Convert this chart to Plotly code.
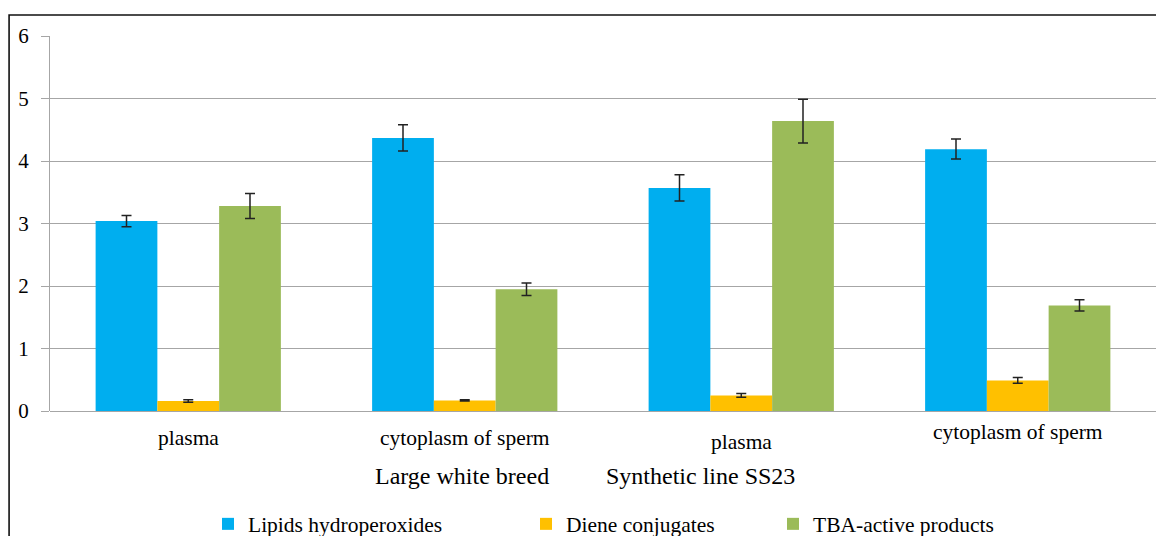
import plotly.graph_objects as go

categories = ["plasma", "cytoplasm of sperm", "plasma", "cytoplasm of sperm"]
groups = ["Large white breed", "Synthetic line SS23"]
series_names = ["Lipids hydroperoxides", "Diene conjugates", "TBA-active products"]
lipids = [3.04, 4.37, 3.57, 4.19]
lipids_err = [0.09, 0.21, 0.21, 0.16]
diene = [0.16, 0.17, 0.25, 0.49]
diene_err = [0.02, 0.01, 0.03, 0.045]
tba = [3.28, 1.95, 4.64, 1.69]
tba_err = [0.20, 0.10, 0.35, 0.09]
y_ticks = [0, 1, 2, 3, 4, 5, 6]

colors = ["#00AEEF", "#FFC000", "#9BBB59"]
FONT = "Liberation Serif"

x = list(range(len(categories)))
fig = go.Figure()
for i, (name, vals, errs) in enumerate(zip(series_names, [lipids, diene, tba], [lipids_err, diene_err, tba_err])):
    fig.add_trace(go.Bar(
        x=x, y=vals, name=name, marker=dict(color=colors[i], line=dict(width=0)),
        error_y=dict(type="data", array=errs, color="#222222", thickness=1.5, width=5),
        legend="legend" if i == 0 else f"legend{i+1}",
    ))

# category labels
label_y = [-0.073, -0.073, -0.083, -0.057]
for xi, (cat, ly) in enumerate(zip(categories, label_y)):
    fig.add_annotation(x=xi, y=ly, xref="x", yref="paper", text=cat, showarrow=False,
                       font=dict(family=FONT, size=21.5, color="#000"), yanchor="middle")
group_x = [0.292, 0.675]
for g, gx in zip(groups, group_x):
    fig.add_annotation(x=gx, y=-0.173, xref="paper", yref="paper", text=g, showarrow=False,
                       font=dict(family=FONT, size=24, color="#000"), yanchor="middle")

# frame
fig.add_shape(type="rect", xref="paper", yref="paper", x0=-0.037, x1=1.05, y0=-0.5, y1=1.056,
              line=dict(color="#111", width=1.6), layer="below")

leg_common = dict(orientation="h", yanchor="middle", y=-0.301, xanchor="left",
                  font=dict(family=FONT, size=21.5, color="#000"), bgcolor="rgba(0,0,0,0)")
fig.update_layout(
    width=1156, height=536,
    margin=dict(l=50, r=0, t=36, b=125, autoexpand=False),
    paper_bgcolor="white", plot_bgcolor="white",
    barmode="group", bargap=0.33, bargroupgap=0,
    showlegend=True,
    legend=dict(x=(222 - 50 - 20 + 6) / 1106, **leg_common),
    legend2=dict(x=(540 - 50 - 20 + 6) / 1106, **leg_common),
    legend3=dict(x=(787 - 50 - 20 + 6) / 1106, **leg_common),
    xaxis=dict(range=[-0.5, 3.5], showticklabels=False, showgrid=False, zeroline=False,
               showline=False, ticks=""),
    yaxis=dict(range=[0, 6], tickvals=y_ticks, showgrid=True, gridcolor="#a6a6a6", gridwidth=1.2,
               zeroline=True, zerolinecolor="#a6a6a6", zerolinewidth=1.2,
               showline=True, linecolor="#a6a6a6", linewidth=1.2,
               ticks="outside", ticklen=8, tickcolor="#a6a6a6", ticklabelstandoff=8,
               tickfont=dict(family=FONT, size=21, color="#000")),
)
fig.write_html("out.html", config={"displayModeBar": False},
               post_script="document.body.style.margin='0';document.body.style.overflow='hidden';")
